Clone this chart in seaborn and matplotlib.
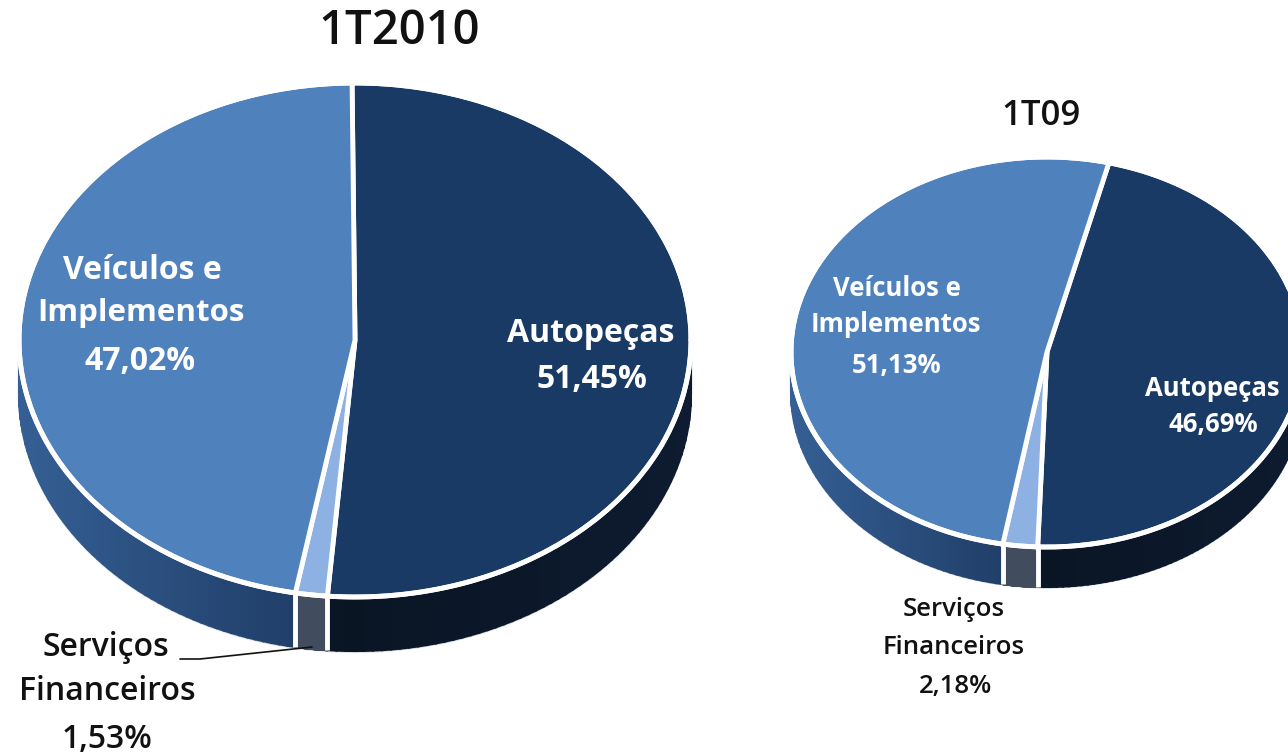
import numpy as np
import matplotlib
matplotlib.use('Agg')
import matplotlib.pyplot as plt
import seaborn as sns

W, H = 1288, 755

categories = ['Autopeças', 'Serviços Financeiros', 'Veículos e Implementos']
values_2010 = [51.45, 1.53, 47.02]
values_2009 = [46.69, 2.18, 51.13]
title_2010 = '1T2010'
title_2009 = '1T09'

top_colors = ['#1a3a66', '#8db1e2', '#4f81bd']
side_from = ['#0a1524', '#414c5e', '#1c3860']
side_to = ['#0e1b30', '#414c5e', '#355f94']

sns.set_theme(style='white')
plt.rcParams['font.family'] = ['Open Sans', 'DejaVu Sans']


def mix(c1, c2, f):
    a = np.array(matplotlib.colors.to_rgb(c1))
    b = np.array(matplotlib.colors.to_rgb(c2))
    return a + (b - a) * f


def draw_pie(fig, cx, cy, rx, ry, depth, values, start):
    # axes box in pixels, unit circle squashed to an ellipse
    d = depth / ry
    ax = fig.add_axes([(cx - rx) / W, 1 - (cy + ry + depth) / H, 2 * rx / W, (2 * ry + depth) / H])
    ax.patch.set_alpha(0)

    # side wall, clockwise from the start angle
    edges = start - np.cumsum([0] + list(values)) * 3.6
    for i in range(len(values)):
        a = np.linspace(edges[i], edges[i + 1], 120)
        for a0, a1 in zip(a[:-1], a[1:]):
            if np.sin(np.radians(a0)) > 0.02 and np.sin(np.radians(a1)) > 0.02:
                continue
            t = np.radians([a0, a1])
            x = np.cos(t)
            y = np.sin(t)
            f = np.clip(abs(np.cos(np.radians(a0))), 0, 1)
            ax.fill([x[0], x[1], x[1], x[0]], [y[0], y[1], y[1] - d, y[0] - d],
                    color=mix(side_from[i], side_to[i], f), lw=1.5, zorder=1)

    # pale edge under the wall
    t = np.linspace(np.pi, 2 * np.pi, 200)
    ax.plot(np.cos(t), np.sin(t) - d - 0.004, color='#d5dde8', lw=1.3, zorder=0)

    ax.pie(values, startangle=start, counterclock=False, colors=top_colors,
           radius=1, center=(0, 0),
           wedgeprops=dict(edgecolor='white', linewidth=3.5, zorder=3), frame=False)

    # rim and separators on the wall
    t = np.linspace(0, 2 * np.pi, 400)
    ax.plot(np.cos(t), np.sin(t), color='white', lw=3.5, zorder=4)
    for e in edges[1:3]:
        x = np.cos(np.radians(e))
        y = np.sin(np.radians(e))
        ax.plot([x, x], [y, y - d], color='white', lw=3.5, zorder=4, solid_capstyle='butt')

    ax.set_aspect('auto')
    ax.set_xlim(-1, 1)
    ax.set_ylim(-1 - d, 1)
    ax.set_axis_off()
    for art in ax.get_children():
        art.set_clip_on(False)
    return ax


def label(fig, x, y, s, size, color='white', weight='bold'):
    fig.text(x / W, 1 - y / H, s, ha='center', va='center', fontsize=size, color=color, fontweight=weight)


fig = plt.figure(figsize=(W / 100, H / 100), dpi=100, facecolor='white')

draw_pie(fig, 355, 340, 336, 257, 54, values_2010, 90.5)
draw_pie(fig, 1047, 352, 256, 195, 40, values_2009, 76)

label(fig, 399, 32, title_2010, 34, '#111111', 'semibold')
label(fig, 1041, 116, title_2009, 25, '#111111', 'semibold')

label(fig, 142, 270, 'Veículos e', 23)
label(fig, 141, 313, 'Implementos', 22.5)
label(fig, 140, 362, '47,02%', 23)
label(fig, 591, 334, 'Autopeças', 23)
label(fig, 592, 380, '51,45%', 23)

label(fig, 897, 288, 'Veículos e', 18.5)
label(fig, 896, 325, 'Implementos', 18.5)
label(fig, 897, 365, '51,13%', 18.5)
label(fig, 1212, 388, 'Autopeças', 18.5)
label(fig, 1213, 424, '46,69%', 18.5)

label(fig, 106, 648, 'Serviços', 23, '#111111', 'semibold')
label(fig, 107, 691, 'Financeiros', 23, '#111111', 'semibold')
label(fig, 107, 739, '1,53%', 23, '#111111', 'semibold')

label(fig, 954, 610, 'Serviços', 18.5, '#111111', 'semibold')
label(fig, 954, 648, 'Financeiros', 18.5, '#111111', 'semibold')
label(fig, 955, 686, '2,18%', 18.5, '#111111', 'semibold')

# leader line of the small slice
fig.add_artist(plt.Line2D([180 / W, 200 / W, 312 / W], [1 - 659 / H, 1 - 659 / H, 1 - 647 / H],
                          color='#111111', lw=1.2))

fig.savefig('out.png', dpi=100)
